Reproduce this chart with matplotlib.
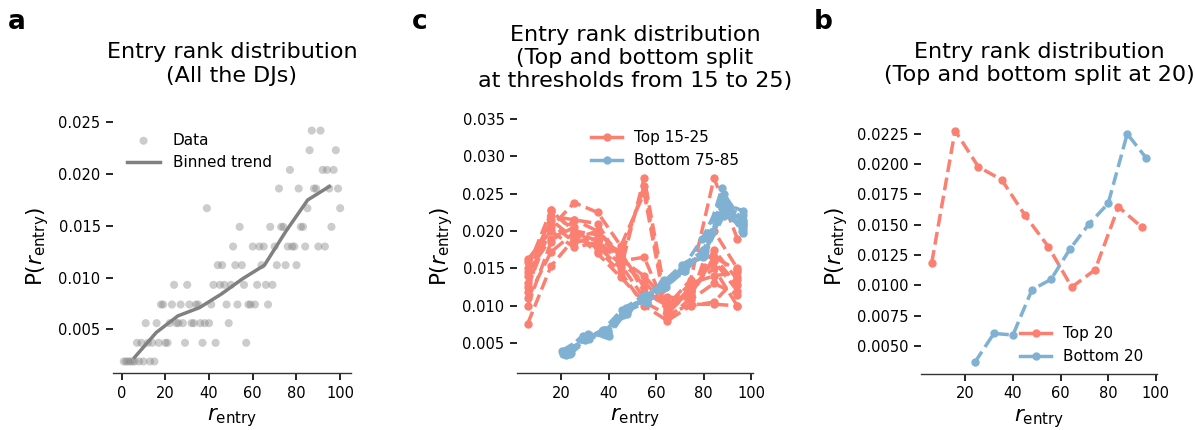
import numpy as np
import matplotlib
matplotlib.use("Agg")
import matplotlib.pyplot as plt
from matplotlib.lines import Line2D

# ---------------- data ----------------
# Panel a: entry-rank probability for every rank 1..100
ranks_a = np.arange(1, 101)
p_all = [0.0019, 0.0019, 0.0019, 0.0019, 0.0019, 0.0019, 0.0037, 0.0019, 0.0037, 0.0019,
         0.0056, 0.0037, 0.0019, 0.0037, 0.0019, 0.0056, 0.0037, 0.0074, 0.0074, 0.0037,
         0.0037, 0.0056, 0.0074, 0.0093, 0.0056, 0.0056, 0.0074, 0.0056, 0.0037, 0.0093,
         0.0074, 0.0056, 0.0056, 0.0074, 0.0074, 0.0056, 0.0037, 0.0056, 0.0167, 0.0056,
         0.0074, 0.0093, 0.0037, 0.0112, 0.0093, 0.0112, 0.0093, 0.0074, 0.0056, 0.0093,
         0.0130, 0.0112, 0.0074, 0.0149, 0.0112, 0.0093, 0.0037, 0.0074, 0.0074, 0.0130,
         0.0074, 0.0093, 0.0130, 0.0112, 0.0130, 0.0093, 0.0074, 0.0149, 0.0093, 0.0130,
         0.0112, 0.0186, 0.0149, 0.0149, 0.0112, 0.0130, 0.0204, 0.0130, 0.0130, 0.0112,
         0.0186, 0.0149, 0.0149, 0.0130, 0.0167, 0.0223, 0.0242, 0.0186, 0.0186, 0.0130,
         0.0242, 0.0204, 0.0130, 0.0204, 0.0186, 0.0149, 0.0204, 0.0223, 0.0186, 0.0167]
trend_x = [5.95, 15.85, 25.75, 35.65, 45.55, 55.45, 65.35, 75.25, 85.15, 95.05]
trend_y = [0.0023, 0.0047, 0.0063, 0.0071, 0.0084, 0.0099, 0.0112, 0.0145, 0.0175, 0.0188]

# Panel c: top lines (thresholds 15..25) share bin centres
top_x = [5.9, 15.7, 25.5, 35.3, 45.1, 54.9, 64.7, 74.5, 84.3, 94.1]
top_lines = [
    [0.0076, 0.0153, 0.0190, 0.0180, 0.0150, 0.0271, 0.0100, 0.0135, 0.0271, 0.0190],
    [0.0100, 0.0185, 0.0215, 0.0200, 0.0165, 0.0260, 0.0090, 0.0120, 0.0160, 0.0120],
    [0.0125, 0.0205, 0.0238, 0.0225, 0.0180, 0.0251, 0.0083, 0.0110, 0.0200, 0.0150],
    [0.0140, 0.0220, 0.0215, 0.0210, 0.0160, 0.0165, 0.0092, 0.0125, 0.0150, 0.0100],
    [0.0150, 0.0228, 0.0200, 0.0195, 0.0162, 0.0140, 0.0105, 0.0115, 0.0165, 0.0128],
    [0.0119, 0.0228, 0.0198, 0.0187, 0.0158, 0.0132, 0.0099, 0.0113, 0.0165, 0.0148],
    [0.0130, 0.0215, 0.0190, 0.0200, 0.0170, 0.0125, 0.0095, 0.0118, 0.0175, 0.0135],
    [0.0158, 0.0210, 0.0185, 0.0190, 0.0172, 0.0118, 0.0100, 0.0130, 0.0140, 0.0145],
    [0.0162, 0.0200, 0.0178, 0.0185, 0.0155, 0.0110, 0.0112, 0.0108, 0.0130, 0.0115],
    [0.0145, 0.0190, 0.0205, 0.0175, 0.0145, 0.0100, 0.0080, 0.0100, 0.0105, 0.0138],
    [0.0110, 0.0172, 0.0198, 0.0170, 0.0138, 0.0105, 0.0088, 0.0102, 0.0102, 0.0100],
]
# Panel c: bottom lines (thresholds 75..85)
bottom_xs = [
    [20.3, 28.7, 37.2, 45.6, 54.0, 62.4, 70.9, 79.3, 87.7, 96.2],
    [20.6, 29.0, 37.4, 45.8, 54.2, 62.6, 71.0, 79.4, 87.8, 96.3],
    [21.0, 29.4, 37.7, 46.1, 54.5, 62.9, 71.2, 79.6, 88.0, 96.4],
    [21.4, 29.7, 38.1, 46.4, 54.7, 63.1, 71.4, 79.7, 88.1, 96.4],
    [21.8, 30.1, 38.4, 46.7, 54.9, 63.2, 71.5, 79.8, 88.1, 96.4],
    [22.2, 30.4, 38.7, 46.9, 55.2, 63.4, 71.7, 79.9, 88.2, 96.4],
    [22.5, 30.7, 38.9, 47.1, 55.4, 63.6, 71.8, 80.0, 88.2, 96.5],
    [22.9, 31.1, 39.3, 47.4, 55.6, 63.8, 71.9, 80.1, 88.3, 96.5],
    [23.3, 31.4, 39.5, 47.6, 55.8, 63.9, 72.0, 80.2, 88.3, 96.5],
    [23.6, 31.7, 39.8, 47.9, 56.0, 64.1, 72.2, 80.3, 88.4, 96.5],
    [24.0, 32.0, 40.0, 48.0, 56.0, 64.0, 72.0, 80.0, 88.0, 96.0],
]
bottom_lines = [
    [0.0040, 0.0056, 0.0066, 0.0095, 0.0112, 0.0130, 0.0155, 0.0172, 0.0258, 0.0200],
    [0.0036, 0.0060, 0.0062, 0.0092, 0.0108, 0.0128, 0.0150, 0.0190, 0.0245, 0.0210],
    [0.0038, 0.0055, 0.0068, 0.0088, 0.0110, 0.0126, 0.0148, 0.0168, 0.0238, 0.0227],
    [0.0035, 0.0058, 0.0063, 0.0094, 0.0106, 0.0132, 0.0152, 0.0165, 0.0230, 0.0205],
    [0.0039, 0.0054, 0.0067, 0.0093, 0.0109, 0.0134, 0.0149, 0.0175, 0.0228, 0.0215],
    [0.0034, 0.0057, 0.0065, 0.0090, 0.0114, 0.0124, 0.0146, 0.0170, 0.0235, 0.0198],
    [0.0036, 0.0059, 0.0061, 0.0091, 0.0107, 0.0127, 0.0153, 0.0166, 0.0242, 0.0202],
    [0.0041, 0.0057, 0.0064, 0.0097, 0.0111, 0.0129, 0.0147, 0.0171, 0.0232, 0.0222],
    [0.0037, 0.0062, 0.0066, 0.0089, 0.0113, 0.0131, 0.0154, 0.0169, 0.0220, 0.0208],
    [0.0035, 0.0056, 0.0063, 0.0094, 0.0104, 0.0125, 0.0150, 0.0173, 0.0250, 0.0212],
    [0.0037, 0.0060, 0.0059, 0.0096, 0.0105, 0.0130, 0.0151, 0.0168, 0.0225, 0.0205],
]

# Panel b: split at 20
top20_x = [5.9, 15.7, 25.5, 35.3, 45.1, 54.9, 64.7, 74.5, 84.3, 94.1]
top20_y = [0.01187, 0.02277, 0.01978, 0.01871, 0.01577, 0.01319, 0.00986, 0.01129, 0.01648, 0.01481]
bot20_x = [24, 32, 40, 48, 56, 64, 72, 80, 88, 96]
bot20_y = [0.00365, 0.00604, 0.00591, 0.00964, 0.01050, 0.01302, 0.01508, 0.01676, 0.02250, 0.02050]

RED = "#fb8072"
BLUE = "#80b1d3"

plt.rcParams['font.family'] = ['DejaVu Sans']
plt.rcParams['mathtext.fontset'] = 'dejavusans'

fig = plt.figure(figsize=(11.95, 4.3), dpi=100)
W, H = 1195.0, 430.0

def mkax(left, right, top, bottom):
    return fig.add_axes([left / W, 1 - bottom / H, (right - left) / W, (bottom - top) / H])

ax_a = mkax(113, 351, 119, 373)
ax_c = mkax(517, 753, 119, 373)
ax_b = mkax(921, 1157, 119, 374)

TICK_FS = 10.5
LAB_FS = 15.5
TITLE_FS = 16

def style(ax):
    for s in ['top', 'right', 'left']:
        ax.spines[s].set_visible(False)
    ax.spines['bottom'].set_linewidth(1.0)
    ax.spines['bottom'].set_color('#333333')
    ax.tick_params(axis='both', direction='out', length=5, width=1.2, labelsize=TICK_FS,
                   colors='black', pad=4)
    ax.set_xlabel(r'$r_{\mathrm{entry}}$', fontsize=LAB_FS, labelpad=4)
    ax.set_ylabel(r'P($r_{\mathrm{entry}}$)', fontsize=LAB_FS, labelpad=5)

# ---- panel a ----
ax_a.scatter(ranks_a, p_all, s=34, color='grey', alpha=0.4, edgecolors='none', label='Data')
ax_a.plot(trend_x, trend_y, color='grey', lw=2.5, label='Binned trend')
ax_a.set_yticks([0.005, 0.010, 0.015, 0.020, 0.025])
ax_a.set_xticks([0, 20, 40, 60, 80, 100])
style(ax_a)
ax_a.set_title('Entry rank distribution\n(All the DJs)', fontsize=TITLE_FS, pad=27)
ax_a.legend(loc='upper left', frameon=False, fontsize=11, bbox_to_anchor=(0.0, 1.0),
            handlelength=2.2)

# ---- panel c ----
for y in top_lines:
    ax_c.plot(top_x, y, '--o', color=RED, lw=2.5, ms=5)
for xs, y in zip(bottom_xs, bottom_lines):
    ax_c.plot(xs, y, '--o', color=BLUE, lw=2.5, ms=5)
ax_c.set_xlim(1.4, 100.7)
ax_c.set_ylim(0.001, 0.035)
ax_c.set_yticks([0.005, 0.010, 0.015, 0.020, 0.025, 0.030, 0.035])
ax_c.set_xticks([20, 40, 60, 80, 100])
style(ax_c)
ax_c.set_title('Entry rank distribution\n(Top and bottom split\nat thresholds from 15 to 25)',
               fontsize=TITLE_FS, pad=23)
hc = [Line2D([], [], color=RED, lw=2.5, marker='o', ms=5),
      Line2D([], [], color=BLUE, lw=2.5, marker='o', ms=5)]
ax_c.legend(hc, ['Top 15-25', 'Bottom 75-85'], loc='upper right', frameon=False, fontsize=11,
            bbox_to_anchor=(1.0, 1.01))

# ---- panel b ----
ax_b.plot(top20_x, top20_y, '--o', color=RED, lw=2.5, ms=5)
ax_b.plot(bot20_x, bot20_y, '--o', color=BLUE, lw=2.5, ms=5)
ax_b.set_yticks([0.0050, 0.0075, 0.0100, 0.0125, 0.0150, 0.0175, 0.0200, 0.0225])
ax_b.set_xticks([20, 40, 60, 80, 100])
style(ax_b)
ax_b.set_title('Entry rank distribution\n(Top and bottom split at 20)', fontsize=TITLE_FS, pad=27)
hb = [Line2D([], [], color=RED, lw=2.5, marker='o', ms=5),
      Line2D([], [], color=BLUE, lw=2.5, marker='o', ms=5)]
ax_b.legend(hb, ['Top 20', 'Bottom 20'], loc='lower right', frameon=False, fontsize=11,
            bbox_to_anchor=(1.0, -0.015))

# panel letters
for lbl, xp in [('a', 8), ('c', 412), ('b', 814)]:
    fig.text(xp / W, 1 - 22 / H, lbl, fontsize=19, fontweight='bold', va='center', ha='left')

fig.savefig('out.png', dpi=100)
